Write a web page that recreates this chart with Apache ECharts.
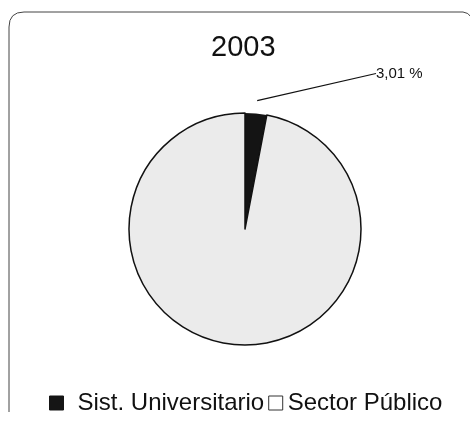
<!DOCTYPE html>
<html>
<head>
<meta charset="utf-8">
<script src="https://cdn.jsdelivr.net/npm/echarts@6/dist/echarts.min.js"></script>
<style>
  html, body { margin: 0; padding: 0; background: #fff; }
  #chart { width: 470px; height: 423px; }
</style>
</head>
<body>
<div id="chart"></div>
<script>
  const categories = ['Sist. Universitario', 'Sector Público']
  const values = [3.01, 96.99]
  const labels = ['3,01 %', '']

  const myChart = echarts.init(document.getElementById('chart'))

  const pieCenter = [245, 229]

  myChart.setOption({
    animation: false,
    title: {
      text: '2003',
      left: 211,
      top: 33,
      padding: 0,
      textStyle: { fontFamily: 'Liberation Sans', fontSize: 29, fontWeight: 'normal', color: '#111' }
    },
    // rounded frame (scanned card border, right/bottom sides cut off)
    graphic: [
      {
        type: 'line',
        shape: { x1: 9, y1: 27, x2: 9, y2: 412 },
        style: { stroke: '#444', lineWidth: 1 },
        silent: true
      },
      {
        type: 'bezierCurve',
        shape: { x1: 9, y1: 27, cpx1: 9, cpy1: 12, x2: 24, y2: 12 },
        style: { fill: 'none', stroke: '#444', lineWidth: 1 },
        silent: true
      },
      {
        type: 'line',
        shape: { x1: 24, y1: 12, x2: 463, y2: 12 },
        style: { stroke: '#444', lineWidth: 1 },
        silent: true
      },
      {
        type: 'bezierCurve',
        shape: { x1: 463, y1: 12, cpx1: 468, cpy1: 12, x2: 472, y2: 18 },
        style: { fill: 'none', stroke: '#444', lineWidth: 1 },
        silent: true
      }
    ],
    legend: {
      top: 391,
      left: 49,
      padding: 0,
      icon: 'rect',
      itemWidth: 14,
      itemHeight: 14,
      itemGap: 4,
      textStyle: { fontFamily: 'Liberation Sans', fontSize: 24, color: '#111' },
      data: [
        {
          name: categories[0],
          itemStyle: { color: '#151515', borderColor: '#151515', borderWidth: 1 },
          textStyle: { padding: [0, 0, 0, 9] }
        },
        { name: categories[1], itemStyle: { color: '#fff', borderColor: '#333', borderWidth: 1 } }
      ]
    },
    series: [
      {
        type: 'pie',
        center: pieCenter,
        radius: 116,
        startAngle: 90,
        clockwise: true,
        silent: true,
        label: { show: false },
        labelLine: { show: false },
        data: categories.map((name, i) => ({
          name,
          value: values[i],
          itemStyle: i === 0
            ? { color: '#141414', borderWidth: 0 }
            : { color: '#ebebeb', borderColor: '#111', borderWidth: 1.5 }
        }))
      },
      {
        // invisible ring only used to place the percentage label and its leader line
        type: 'pie',
        center: pieCenter,
        radius: 129,
        startAngle: 90,
        clockwise: true,
        silent: true,
        itemStyle: { color: 'rgba(0,0,0,0)', borderWidth: 0 },
        labelLine: { show: true, length: 0, length2: 0, lineStyle: { color: '#111', width: 1.2 } },
        labelLayout: (p) => p.dataIndex === 0 ? { x: 376, y: 81, align: 'left', verticalAlign: 'bottom' } : {},
        data: categories.map((name, i) => ({
          name,
          value: values[i],
          label: {
            show: i === 0,
            formatter: labels[i],
            fontFamily: 'Liberation Sans',
            fontSize: 15,
            color: '#111'
          },
          labelLine: { show: i === 0 }
        }))
      }
    ]
  })
</script>
</body>
</html>
